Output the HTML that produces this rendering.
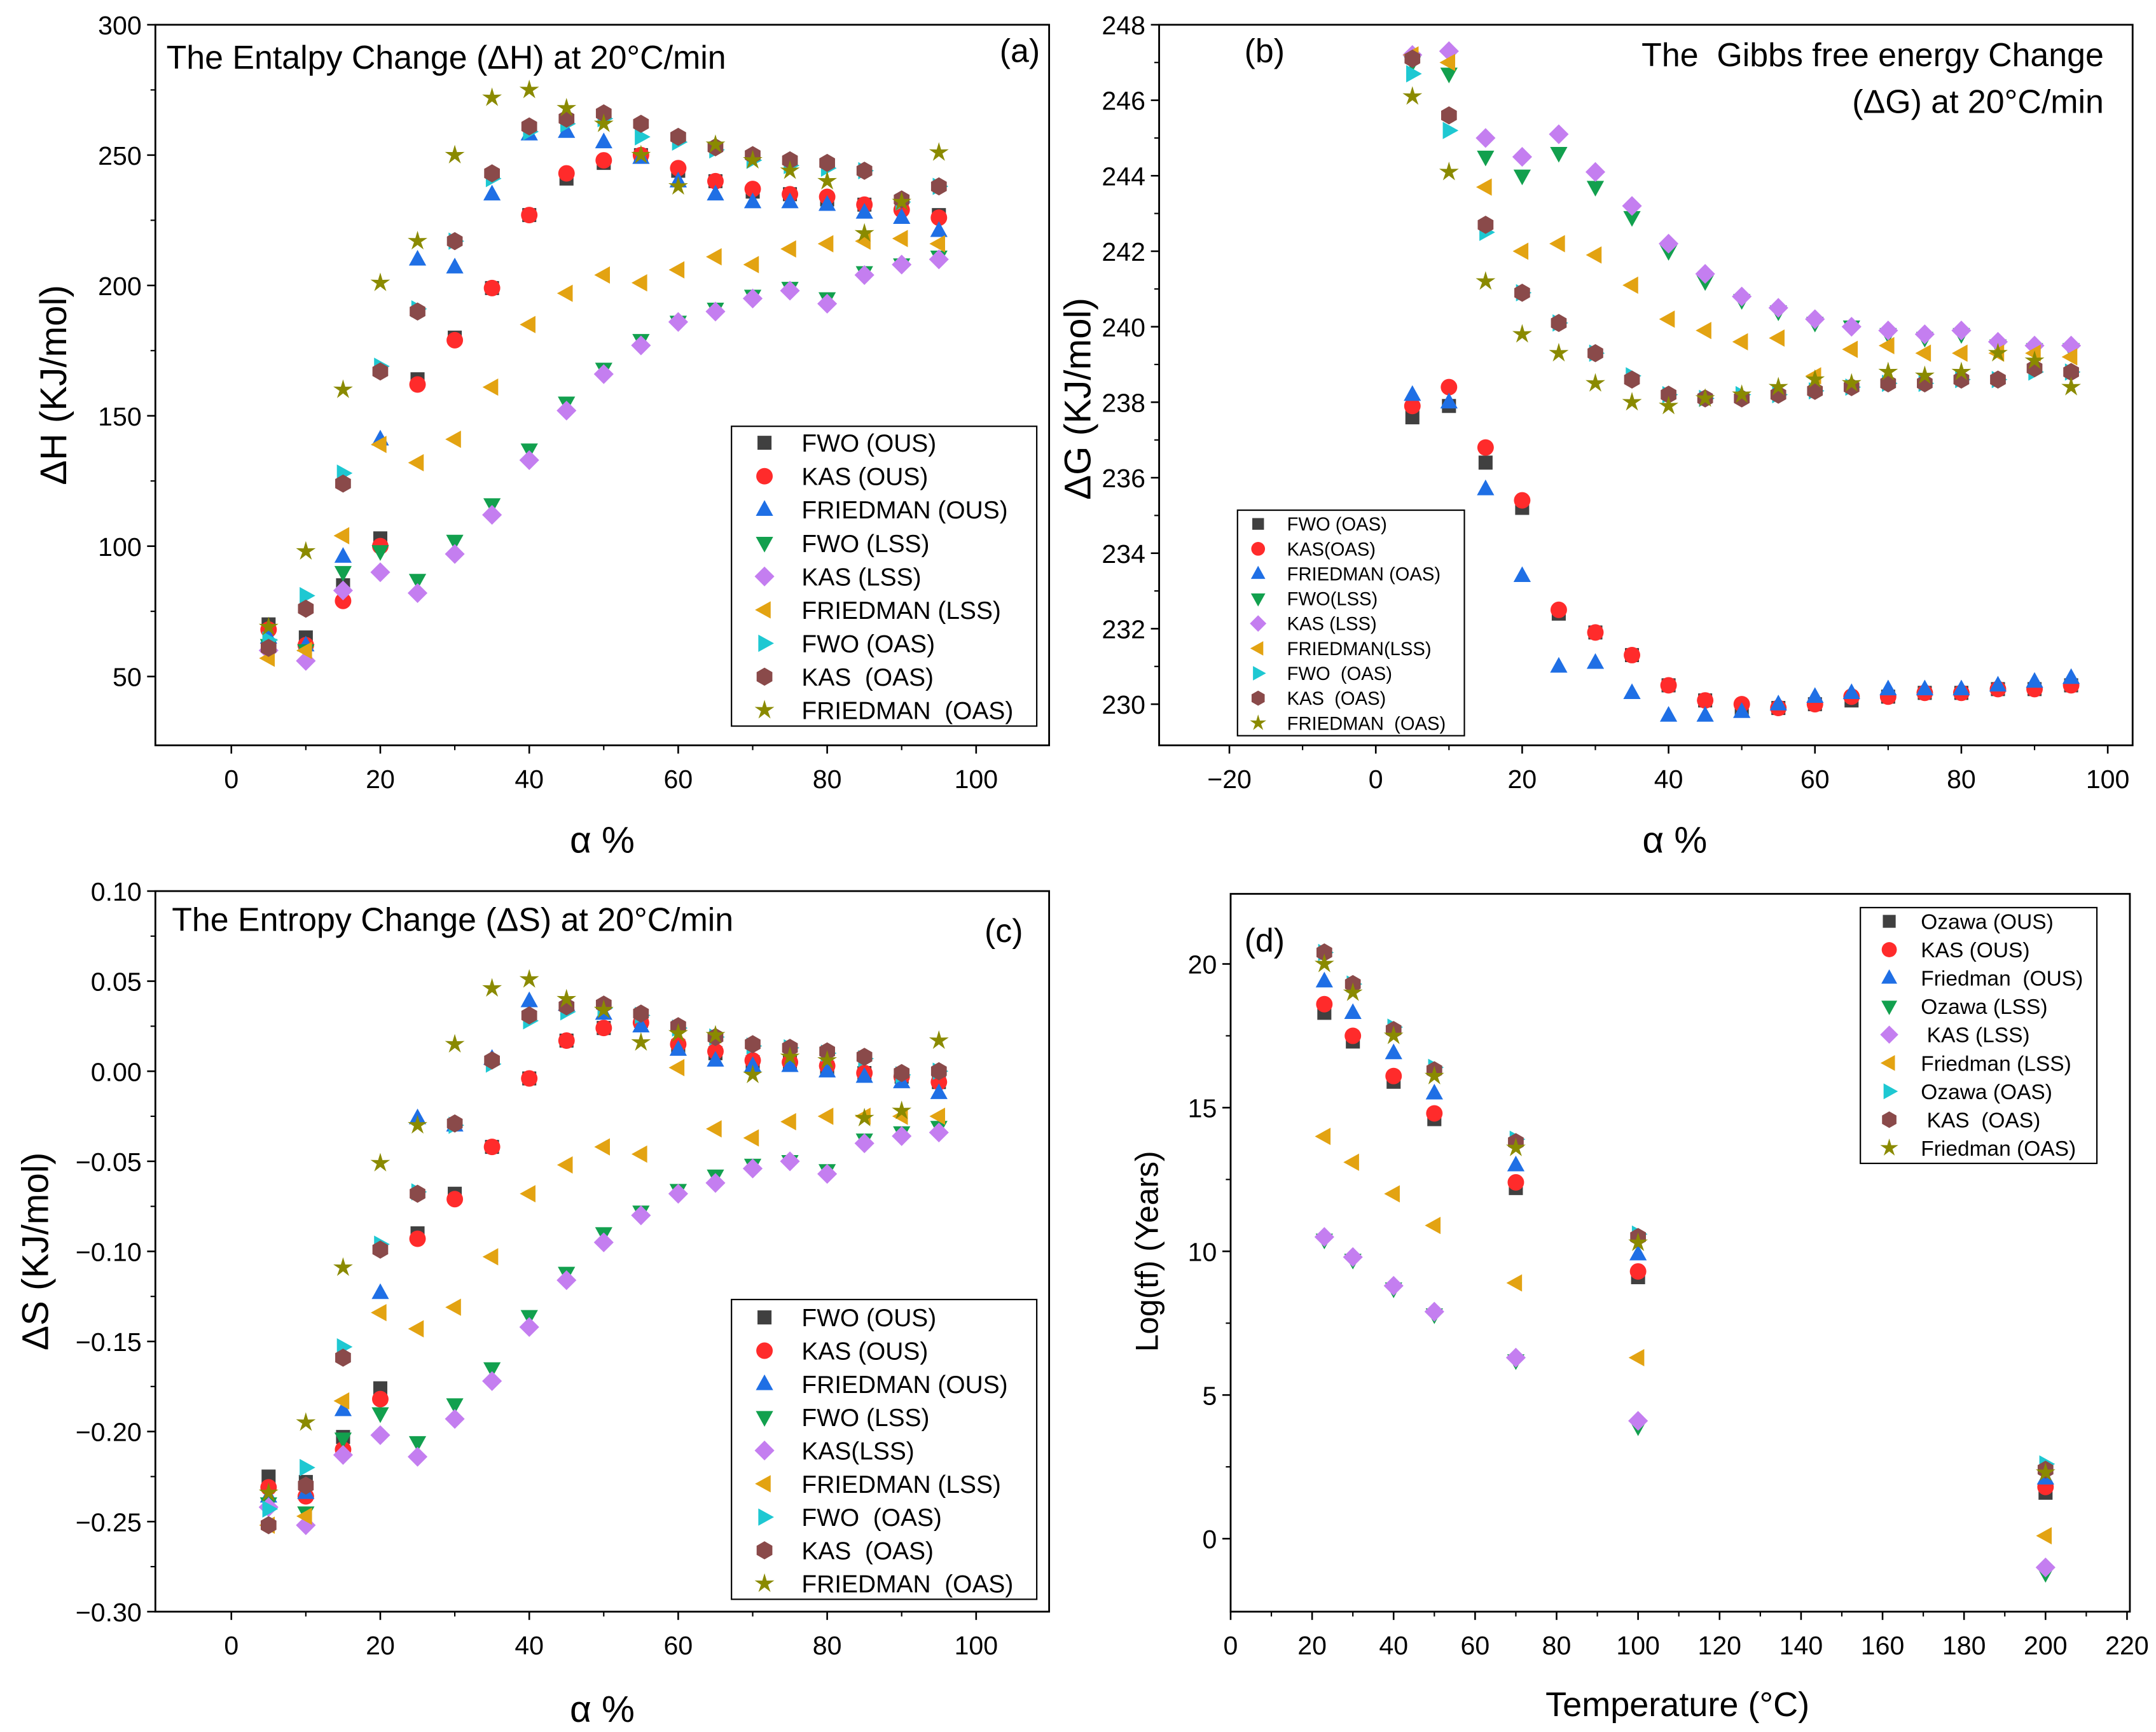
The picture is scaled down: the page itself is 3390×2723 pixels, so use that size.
<!DOCTYPE html>
<html><head><meta charset="utf-8"><style>
html,body{margin:0;padding:0;background:#fff}
svg{display:block;font-family:"Liberation Sans",sans-serif}
svg text{white-space:pre}
</style></head><body>
<svg id="fig" width="3390" height="2723" viewBox="0 0 1568 1259.5" preserveAspectRatio="none" xmlns="http://www.w3.org/2000/svg"></svg>
<script>
// ---------- DATA ----------
const alphaVals = [5,10,15,20,25,30,35,40,45,50,55,60,65,70,75,80,85,90,95];
const tempVals = [23,30,40,50,70,100,200];

const namesA = ["FWO (OUS)","KAS (OUS)","FRIEDMAN (OUS)","FWO (LSS)","KAS (LSS)","FRIEDMAN (LSS)","FWO (OAS)","KAS  (OAS)","FRIEDMAN  (OAS)"];
const hFwoOus = [70,65,85,103,164,180,199,227,241,247,250,244,240,236,235,233,231,230,227];
const hKasOus = [68,62,79,100,162,179,199,227,243,248,250,245,240,237,235,234,231,229,226];
const hFriOus = [65,62,96,141,210,207,235,258,259,255,249,240,235,232,232,231,228,226,221];
const hFwoLss = [62,60,90,98,87,102,116,137,155,168,179,186,191,196,199,195,205,208,211];
const hKasLss = [60,56,83,90,82,97,112,133,152,166,177,186,190,195,198,193,204,208,210];
const hFriLss = [57,60,104,139,132,141,161,185,197,204,201,206,211,208,214,216,217,218,216];
const hFwoOas = [64,81,128,169,191,217,241,259,262,264,257,255,252,248,246,245,244,232,238];
const hKasOas = [61,76,124,167,190,217,243,261,264,266,262,257,253,250,248,247,244,233,238];
const hFriOas = [69,98,160,201,217,250,272,275,268,262,250,238,254,248,244,240,220,232,251];

const namesB = ["FWO (OAS)","KAS(OAS)","FRIEDMAN (OAS)","FWO(LSS)","KAS (LSS)","FRIEDMAN(LSS)","FWO  (OAS)","KAS  (OAS)","FRIEDMAN  (OAS)"];
const gS1 = [237.6,237.9,236.4,235.2,232.4,231.9,231.3,230.5,230.1,229.9,229.9,230.0,230.1,230.2,230.3,230.3,230.4,230.4,230.5];
const gS2 = [237.9,238.4,236.8,235.4,232.5,231.9,231.3,230.5,230.1,230.0,229.9,230.0,230.2,230.2,230.3,230.3,230.4,230.4,230.5];
const gS3 = [238.2,238.0,235.7,233.4,231.0,231.1,230.3,229.7,229.7,229.8,230.0,230.2,230.3,230.4,230.4,230.4,230.5,230.6,230.7];
const gS4 = [247.0,246.7,244.5,244.0,244.6,243.7,242.9,242.0,241.2,240.7,240.4,240.1,240.0,239.8,239.7,239.8,239.5,239.4,239.4];
const gS5 = [247.2,247.3,245.0,244.5,245.1,244.1,243.2,242.2,241.4,240.8,240.5,240.2,240.0,239.9,239.8,239.9,239.6,239.5,239.5];
const gS6 = [247.2,247.0,243.7,242.0,242.2,241.9,241.1,240.2,239.9,239.6,239.7,238.7,239.4,239.5,239.3,239.3,239.3,239.3,239.2];
const gS7 = [246.7,245.2,242.5,240.9,240.1,239.3,238.7,238.2,238.1,238.2,238.2,238.3,238.4,238.5,238.5,238.6,238.6,238.8,238.8];
const gS8 = [247.1,245.6,242.7,240.9,240.1,239.3,238.6,238.2,238.1,238.1,238.2,238.3,238.4,238.5,238.5,238.6,238.6,238.9,238.8];
const gS9 = [246.1,244.1,241.2,239.8,239.3,238.5,238.0,237.9,238.1,238.2,238.4,238.6,238.5,238.8,238.7,238.8,239.3,239.1,238.4];

const namesC = ["FWO (OUS)","KAS (OUS)","FRIEDMAN (OUS)","FWO (LSS)","KAS(LSS)","FRIEDMAN (LSS)","FWO  (OAS)","KAS  (OAS)","FRIEDMAN  (OAS)"];
const sS1 = [-0.225,-0.228,-0.203,-0.176,-0.090,-0.068,-0.042,-0.004,0.017,0.024,0.028,0.014,0.010,0.005,0.005,0.002,-0.001,-0.003,-0.006];
const sS2 = [-0.231,-0.236,-0.210,-0.182,-0.093,-0.071,-0.042,-0.004,0.017,0.024,0.027,0.015,0.011,0.006,0.005,0.003,-0.001,-0.003,-0.006];
const sS3 = [-0.236,-0.234,-0.188,-0.123,-0.026,-0.030,0.007,0.039,0.037,0.032,0.025,0.012,0.006,0.003,0.003,0.000,-0.003,-0.006,-0.012];
const sS4 = [-0.240,-0.245,-0.204,-0.190,-0.206,-0.185,-0.165,-0.136,-0.112,-0.090,-0.078,-0.066,-0.058,-0.052,-0.050,-0.055,-0.038,-0.034,-0.031];
const sS5 = [-0.242,-0.252,-0.213,-0.202,-0.214,-0.193,-0.172,-0.142,-0.116,-0.095,-0.080,-0.068,-0.062,-0.054,-0.050,-0.057,-0.040,-0.036,-0.034];
const sS6 = [-0.252,-0.247,-0.183,-0.134,-0.143,-0.131,-0.103,-0.068,-0.052,-0.042,-0.046,0.002,-0.032,-0.037,-0.028,-0.025,-0.025,-0.025,-0.025];
const sS7 = [-0.243,-0.220,-0.153,-0.096,-0.067,-0.030,0.004,0.028,0.033,0.035,0.031,0.024,0.019,0.014,0.013,0.010,0.007,-0.002,0.000];
const sS8 = [-0.252,-0.230,-0.159,-0.099,-0.068,-0.029,0.006,0.031,0.036,0.037,0.032,0.025,0.019,0.015,0.013,0.011,0.008,-0.001,0.000];
const sS9 = [-0.234,-0.195,-0.109,-0.051,-0.030,0.015,0.046,0.051,0.040,0.034,0.016,0.021,0.020,-0.002,0.008,0.006,-0.026,-0.022,0.017];

const namesD = ["Ozawa (OUS)","KAS (OUS)","Friedman  (OUS)","Ozawa (LSS)"," KAS (LSS)","Friedman (LSS)","Ozawa (OAS)"," KAS  (OAS)","Friedman (OAS)"];
const tS1 = [18.3,17.3,15.9,14.6,12.2,9.1,1.6];
const tS2 = [18.6,17.5,16.1,14.8,12.4,9.3,1.8];
const tS3 = [19.4,18.3,16.9,15.5,13.0,9.9,2.1];
const tS4 = [10.4,9.7,8.7,7.8,6.2,3.9,-1.2];
const tS5 = [10.5,9.8,8.8,7.9,6.3,4.1,-1.0];
const tS6 = [14.0,13.1,12.0,10.9,8.9,6.3,0.1];
const tS7 = [20.4,19.3,17.8,16.4,13.9,10.6,2.6];
const tS8 = [20.4,19.3,17.7,16.3,13.8,10.5,2.4];
const tS9 = [20.0,19.0,17.5,16.1,13.6,10.3,2.3];

const ticksAx = [0,20,40,60,80,100];
const ticksAy = [50,100,150,200,250,300];
const ticksBx = [-20,0,20,40,60,80,100];
const ticksBy = [230,232,234,236,238,240,242,244,246,248];
const ticksCy = [-0.30,-0.25,-0.20,-0.15,-0.10,-0.05,0.00,0.05,0.10];
const ticksDx = [0,20,40,60,80,100,120,140,160,180,200,220];
const ticksDy = [0,5,10,15,20];

// ---------- RENDER ----------
const NS="http://www.w3.org/2000/svg";
const svg=document.getElementById('fig');
const colors=["#404040","#ff2b2b","#1f6fe5","#12a04e","#c47ef0","#e3a312","#1ec8d2","#8a4a4a","#8a8a00"];
const shapes=["sq","ci","tu","td","di","tl","tr","hx","st"];
function el(tag,attrs,parent){const e=document.createElementNS(NS,tag);for(const k in attrs)e.setAttribute(k,attrs[k]);(parent||svg).appendChild(e);return e;}
function txt(s,x,y,size,anchor,parent,extra){const t=el('text',Object.assign({x:x,y:y,'font-size':size,'text-anchor':anchor||'start',fill:'#000'},extra||{}),parent);t.textContent=s;return t;}
function marker(shape,cx,cy,r,color,parent){
  let d;
  if(shape==='ci')return el('circle',{cx:cx,cy:cy,r:r,fill:color},parent);
  if(shape==='sq'){d=[[-1,-1],[1,-1],[1,1],[-1,1]].map(p=>[p[0]*r*0.85,p[1]*r*0.85]);}
  else if(shape==='tu')d=[[0,-1.15],[1.05,0.75],[-1.05,0.75]].map(p=>[p[0]*r,p[1]*r]);
  else if(shape==='td')d=[[0,1.15],[1.05,-0.75],[-1.05,-0.75]].map(p=>[p[0]*r,p[1]*r]);
  else if(shape==='tl')d=[[-1.15,0],[0.75,1.05],[0.75,-1.05]].map(p=>[p[0]*r,p[1]*r]);
  else if(shape==='tr')d=[[1.15,0],[-0.75,1.05],[-0.75,-1.05]].map(p=>[p[0]*r,p[1]*r]);
  else if(shape==='di')d=[[0,-1.2],[1.2,0],[0,1.2],[-1.2,0]].map(p=>[p[0]*r,p[1]*r]);
  else if(shape==='hx'){d=[];for(let i=0;i<6;i++){const a=Math.PI/6+i*Math.PI/3;d.push([Math.cos(a)*r*1.1,Math.sin(a)*r*1.1]);}}
  else {d=[];for(let i=0;i<10;i++){const a=-Math.PI/2+i*Math.PI/5;const rr=(i%2?0.45:1.25)*r;d.push([Math.cos(a)*rr,Math.sin(a)*rr]);}}
  return el('polygon',{points:d.map(p=>(cx+p[0]).toFixed(2)+','+(cy+p[1]).toFixed(2)).join(' '),fill:color},parent);
}
function panel(o){
  const g=el('g',{});
  
  
  const sx=v=>o.x0+(v-o.xmin)/(o.xmax-o.xmin)*(o.x1-o.x0);
  const sy=v=>o.y1-(v-o.ymin)/(o.ymax-o.ymin)*(o.y1-o.y0);
  const ax=el('g',{},g);
  
  
  el('rect',{x:o.x0,y:o.y0,width:o.x1-o.x0,height:o.y1-o.y0,fill:'none',stroke:'#000','stroke-width':1.3},ax);
  o.xt.forEach((v,i)=>{const x=sx(v);el('line',{x1:x,x2:x,y1:o.y1,y2:o.y1+6,stroke:'#000','stroke-width':1.2},ax);
    txt(o.xl?o.xl[i]:(v<0?'\u2212'+(-v):String(v)),x,o.y1+31,19,'middle',ax);
    if(i<o.xt.length-1){const xm=sx((v+o.xt[i+1])/2);el('line',{x1:xm,x2:xm,y1:o.y1,y2:o.y1+3.5,stroke:'#000','stroke-width':1},ax);}});
  o.yt.forEach((v,i)=>{const y=sy(v);el('line',{x1:o.x0-6,x2:o.x0,y1:y,y2:y,stroke:'#000','stroke-width':1.2},ax);
    txt(o.yfmt(v),o.x0-10,y+7,19,'end',ax);
    if(i<o.yt.length-1){const ym=sy((v+o.yt[i+1])/2);el('line',{x1:o.x0-3.5,x2:o.x0,y1:ym,y2:ym,stroke:'#000','stroke-width':1},ax);}});
  const xt=txt(o.xlab,o.xlx,o.xly,o.xls,'middle',g);
  
  
  const yt=txt(o.ylab,0,0,o.yls,'middle',g,{transform:`translate(${o.ylx},${o.yly}) rotate(-90)`});
  
  
  o.series.forEach((s,k)=>{const sg=el('g',{},g);
    
    
    s.forEach((v,i)=>{const m=marker(shapes[k],sx(o.xs[i]),sy(v),6,colors[k],sg);
      
      });});
  const L=o.leg;
  const lg=el('g',{},g);
  
  
  el('rect',{x:L.x,y:L.y,width:L.w,height:L.h,fill:'#fff',stroke:'#000','stroke-width':1},lg);
  o.names.forEach((n,k)=>{const y=L.r0+k*L.dr;
    const e=el('g',{},lg);
    
    
    marker(shapes[k],L.mx,y,L.ms,colors[k],e);txt(n,L.tx,y+L.fs*0.36,L.fs,'start',e);});
  o.texts.forEach(t=>{const e=txt(t[0],t[1],t[2],t[3],t[4]||'start',g);
    
    });
}
panel({name:'panel-a',x0:113,x1:763,y0:18,y1:542,xmin:-10.2,xmax:109.8,ymin:23.6,ymax:300,xs:alphaVals,
  xt:ticksAx,yt:ticksAy,yfmt:v=>String(v),xlab:'\u03b1 %',xlx:438,xly:620,xls:27,ylab:'\u0394H (KJ/mol)',ylx:48,yly:280,yls:27,
  series:[hFwoOus,hKasOus,hFriOus,hFwoLss,hKasLss,hFriLss,hFwoOas,hKasOas,hFriOas],names:namesA,
  leg:{x:532,y:310,w:222,h:218,r0:322,dr:24.3,mx:556,tx:583,fs:18,ms:6},
  texts:[['The Entalpy Change (\u0394H) at 20\u00b0C/min',121,50,24,'start','panel-a-title'],['(a)',727,45,24,'start','panel-a-label']]});
panel({name:'panel-b',x0:843,x1:1551,y0:18,y1:542,xmin:-29.6,xmax:103.4,ymin:228.91,ymax:248,xs:alphaVals,
  xt:ticksBx,yt:ticksBy,yfmt:v=>String(v),xlab:'\u03b1 %',xlx:1218,xly:620,xls:27,ylab:'\u0394G (KJ/mol)',ylx:793,yly:290,yls:27,
  series:[gS1,gS2,gS3,gS4,gS5,gS6,gS7,gS8,gS9],names:namesB,
  leg:{x:900,y:371,w:165,h:164,r0:381,dr:18.1,mx:915,tx:936,fs:13.5,ms:5},
  texts:[['The  Gibbs free energy Change',1530,48,24,'end','panel-b-title'],['(\u0394G) at 20\u00b0C/min',1530,82,24,'end','panel-b-title-line2'],['(b)',905,45,24,'start','panel-b-label']]});
panel({name:'panel-c',x0:113,x1:763,y0:648,y1:1172,xmin:-10.2,xmax:109.8,ymin:-0.30,ymax:0.10,xs:alphaVals,
  xt:ticksAx,yt:ticksCy,yfmt:v=>(v<0?'\u2212':'')+Math.abs(v).toFixed(2),xlab:'\u03b1 %',xlx:438,xly:1252,xls:27,ylab:'\u0394S (KJ/mol)',ylx:35,yly:910,yls:27,
  series:[sS1,sS2,sS3,sS4,sS5,sS6,sS7,sS8,sS9],names:namesC,
  leg:{x:532,y:945,w:222,h:218,r0:958,dr:24.2,mx:556,tx:583,fs:18,ms:6},
  texts:[['The Entropy Change (\u0394S) at 20\u00b0C/min',125,677,24,'start','panel-c-title'],['(c)',716,685,24,'start','panel-c-label']]});
panel({name:'panel-d',x0:895,x1:1549,y0:650,y1:1172,xmin:0,xmax:220.7,ymin:-2.54,ymax:22.44,xs:tempVals,
  xt:ticksDx,yt:ticksDy,yfmt:v=>String(v),xlab:'Temperature (\u00b0C)',xlx:1220,xly:1248,xls:25,ylab:'Log(tf) (Years)',ylx:842,yly:910,yls:23,
  series:[tS1,tS2,tS3,tS4,tS5,tS6,tS7,tS8,tS9],names:namesD,
  leg:{x:1353,y:660,w:172,h:186,r0:670,dr:20.6,mx:1374,tx:1397,fs:15.5,ms:5.5},
  texts:[['(d)',905,692,24,'start','panel-d-label']]});
</script>
</body></html>
